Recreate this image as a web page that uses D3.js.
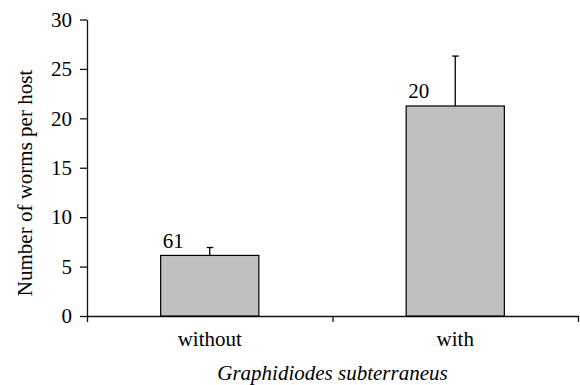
<!DOCTYPE html>
<html>
<head>
<meta charset="utf-8">
<script src="https://cdn.jsdelivr.net/npm/d3@7"></script>
<style>
  html, body { margin: 0; padding: 0; background: #fff; }
  svg text { font-family: "Liberation Serif", "DejaVu Serif", serif; fill: #000; }
</style>
</head>
<body>
<div id="graph"></div>
<script>
const categories = ['without', 'with'];
const means = [6.13, 21.25];
const errors = [0.8, 5.05];
const sampleSizes = ['61', '20'];
const yTicks = [0, 5, 10, 15, 20, 25, 30];

const width = 580, height = 385;
const plotLeft = 87, plotRight = 578, plotTop = 19.5, plotBottom = 316;

const svg = d3.select('#graph')
  .append('svg')
  .attr('width', width)
  .attr('height', height);

const y = d3.scaleLinear()
  .domain([0, 30])
  .range([plotBottom, plotTop]);

const x = d3.scaleBand()
  .domain(categories)
  .range([plotLeft, plotRight])
  .paddingInner(0.6)
  .paddingOuter(0.3);

// ticks on the x axis sit between the categories, not under them
const xEdges = d3.scaleLinear()
  .domain([0, categories.length])
  .range([plotLeft, plotRight]);

const fontSize = '21px';

// x axis
const xAxis = svg.append('g')
  .attr('transform', 'translate(0,' + plotBottom + ')')
  .call(d3.axisBottom(xEdges)
    .tickValues(d3.range(categories.length + 1))
    .tickFormat('')
    .tickSize(6)
    .tickSizeOuter(0));
xAxis.selectAll('path, line').attr('stroke', '#111').attr('stroke-width', 1.3);

// category labels
svg.selectAll('text.cat')
  .data(categories)
  .enter()
  .append('text')
  .attr('class', 'cat')
  .attr('x', d => x(d) + x.bandwidth() / 2)
  .attr('y', 345.5)
  .attr('text-anchor', 'middle')
  .style('font-size', fontSize)
  .text(d => d);

// y axis
const yAxis = svg.append('g')
  .attr('transform', 'translate(' + plotLeft + ',0)')
  .call(d3.axisLeft(y)
    .tickValues(yTicks)
    .tickSize(7)
    .tickPadding(8)
    .tickSizeOuter(0));
yAxis.selectAll('path, line').attr('stroke', '#111').attr('stroke-width', 1.3);
yAxis.selectAll('text')
  .style('font-size', fontSize)
  .style('font-family', '"Liberation Serif", serif')
  .attr('fill', '#000');

// bars
svg.selectAll('rect.bar')
  .data(means)
  .enter()
  .append('rect')
  .attr('class', 'bar')
  .attr('x', (d, i) => x(categories[i]))
  .attr('y', d => y(d))
  .attr('width', x.bandwidth())
  .attr('height', d => y(0) - y(d))
  .attr('fill', '#c0c0c0')
  .attr('stroke', '#000')
  .attr('stroke-width', 1.2);

// error bars (upper only)
const err = svg.selectAll('g.err')
  .data(means)
  .enter()
  .append('g')
  .attr('class', 'err');

err.append('line')
  .attr('x1', (d, i) => x(categories[i]) + x.bandwidth() / 2)
  .attr('x2', (d, i) => x(categories[i]) + x.bandwidth() / 2)
  .attr('y1', d => y(d))
  .attr('y2', (d, i) => y(d + errors[i]))
  .attr('stroke', '#000')
  .attr('stroke-width', 1.3);

err.append('line')
  .attr('x1', (d, i) => x(categories[i]) + x.bandwidth() / 2 - 3)
  .attr('x2', (d, i) => x(categories[i]) + x.bandwidth() / 2 + 3.5)
  .attr('y1', (d, i) => y(d + errors[i]))
  .attr('y2', (d, i) => y(d + errors[i]))
  .attr('stroke', '#000')
  .attr('stroke-width', 1.3);

// sample sizes above the bars
svg.selectAll('text.n')
  .data(means)
  .enter()
  .append('text')
  .attr('class', 'n')
  .attr('x', (d, i) => x(categories[i]) + 2)
  .attr('y', d => y(d) - 7.5)
  .style('font-size', fontSize)
  .text((d, i) => sampleSizes[i]);

// axis titles
svg.append('text')
  .attr('transform', 'translate(31.5,183) rotate(-90)')
  .attr('text-anchor', 'middle')
  .style('font-size', fontSize)
  .text('Number of worms per host');

svg.append('text')
  .attr('x', (plotLeft + plotRight) / 2)
  .attr('y', 380)
  .attr('text-anchor', 'middle')
  .style('font-size', fontSize)
  .style('font-style', 'italic')
  .text('Graphidiodes subterraneus');
</script>
</body>
</html>
